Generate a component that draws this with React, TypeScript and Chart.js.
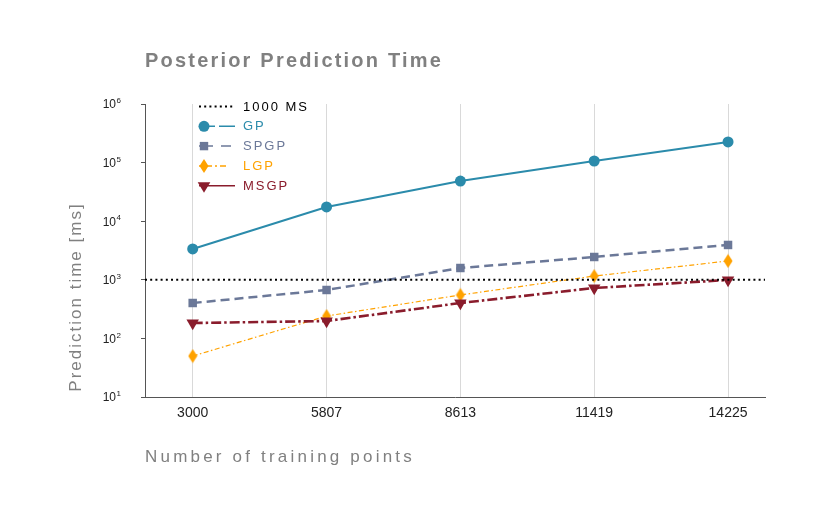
import React, { useEffect, useRef } from "react";
import { Chart, registerables } from "chart.js";

Chart.register(...registerables);

// ---- data ----
const X_VALUES = [3000, 5807, 8613, 11419, 14225];
const GP = [3360, 17500, 48500, 106500, 225000];
const SPGP = [402, 670, 1590, 2450, 3930];
const LGP = [50, 241, 551, 1160, 2095];
const MSGP = [183, 198, 402, 725, 993];
const REF_VALUE = 1000;
const REF_LABEL = "1000 MS";
const X_RANGE = [2000, 15000];
const Y_RANGE = [10, 1000000];
const Y_TICK_EXPONENTS = [1, 2, 3, 4, 5, 6];
const SERIES_NAMES = ["GP", "SPGP", "LGP", "MSGP"];
const TITLE = "Posterior Prediction Time";
const X_TITLE = "Number of training points";
const Y_TITLE = "Prediction time [ms]";

const COLORS = ["#2b8bab", "#6b7898", "#ffa200", "#8a1c2c"];
const FONT = "'Liberation Sans', Helvetica, Arial, sans-serif";

function makeDiamond(color: string) {
  const c = document.createElement("canvas");
  c.width = 10;
  c.height = 15;
  const ctx = c.getContext("2d")!;
  ctx.fillStyle = color;
  ctx.beginPath();
  ctx.moveTo(5, 0.5);
  ctx.lineTo(9.5, 7.5);
  ctx.lineTo(5, 14.5);
  ctx.lineTo(0.5, 7.5);
  ctx.closePath();
  ctx.fill();
  return c;
}

function drawMarker(ctx: CanvasRenderingContext2D, kind: number, x: number, y: number, color: string) {
  ctx.save();
  ctx.fillStyle = color;
  ctx.beginPath();
  if (kind === 0) {
    ctx.arc(x, y, 5.5, 0, Math.PI * 2);
  } else if (kind === 1) {
    ctx.rect(x - 4.2, y - 4.2, 8.4, 8.4);
  } else if (kind === 2) {
    ctx.moveTo(x, y - 7);
    ctx.lineTo(x + 4.5, y);
    ctx.lineTo(x, y + 7);
    ctx.lineTo(x - 4.5, y);
    ctx.closePath();
  } else {
    ctx.moveTo(x - 6.3, y - 3.5);
    ctx.lineTo(x + 6.3, y - 3.5);
    ctx.lineTo(x, y + 7);
    ctx.closePath();
  }
  ctx.fill();
  ctx.restore();
}

export default function App() {
  const ref = useRef<HTMLCanvasElement | null>(null);

  useEffect(() => {
    document.body.style.margin = "0";
    const canvas = ref.current;
    if (!canvas) return;

    const toPts = (arr: number[]) => arr.map((v, i) => ({ x: X_VALUES[i], y: v }));

    const overlay = {
      id: "overlay",
      afterDraw(chart: any) {
        const ctx: CanvasRenderingContext2D = chart.ctx;
        const ys = chart.scales.y;
        ctx.save();
        // y tick labels 10^k
        ctx.fillStyle = "#222";
        Y_TICK_EXPONENTS.forEach((e) => {
          const py = ys.getPixelForValue(Math.pow(10, e));
          ctx.font = `12px ${FONT}`;
          ctx.textAlign = "right";
          ctx.textBaseline = "middle";
          ctx.fillText("10", 116, py + 1);
          ctx.font = `8px ${FONT}`;
          ctx.textAlign = "left";
          ctx.fillText(String(e), 116.5, py - 3);
        });
        // title
        ctx.fillStyle = "#808080";
        ctx.textAlign = "left";
        ctx.textBaseline = "alphabetic";
        (ctx as any).letterSpacing = "2.2px";
        ctx.font = `bold 20px ${FONT}`;
        ctx.fillText(TITLE, 145, 67);
        // x title
        (ctx as any).letterSpacing = "3.2px";
        ctx.font = `17px ${FONT}`;
        ctx.fillText(X_TITLE, 145, 462);
        // y title
        ctx.save();
        ctx.translate(81, 297);
        ctx.rotate(-Math.PI / 2);
        ctx.textAlign = "center";
        (ctx as any).letterSpacing = "2px";
        ctx.font = `17px ${FONT}`;
        ctx.fillText(Y_TITLE, 0, 0);
        ctx.restore();

        // legend
        const lx0 = 199, lx1 = 235, mx = 204, tx = 243, ty0 = 106.5, step = 19.8;
        (ctx as any).letterSpacing = "2px";
        ctx.font = `13px ${FONT}`;
        ctx.textBaseline = "middle";
        ctx.textAlign = "left";
        // reference line entry
        ctx.save();
        ctx.strokeStyle = "#000";
        ctx.lineWidth = 2;
        ctx.setLineDash([2, 3.2]);
        ctx.beginPath();
        ctx.moveTo(lx0, ty0);
        ctx.lineTo(lx1, ty0);
        ctx.stroke();
        ctx.restore();
        ctx.fillStyle = "#000";
        ctx.fillText(REF_LABEL, tx, ty0 + 0.5);
        const dashes = [[16, 4, 16], [14, 8, 10], [13, 3, 2, 3, 6, 40], []];
        SERIES_NAMES.forEach((name, i) => {
          const y = ty0 + step * (i + 1);
          ctx.save();
          ctx.strokeStyle = COLORS[i];
          ctx.lineWidth = 1.5;
          ctx.setLineDash(dashes[i]);
          ctx.beginPath();
          ctx.moveTo(lx0, y);
          ctx.lineTo(lx1, y);
          ctx.stroke();
          ctx.restore();
          drawMarker(ctx, i, mx, y, COLORS[i]);
          ctx.fillStyle = COLORS[i];
          ctx.fillText(name, tx, y + 0.5);
        });
        ctx.restore();
      },
    };

    const chart = new Chart(canvas, {
      type: "line",
      data: {
        datasets: [
          {
            label: REF_LABEL,
            data: X_RANGE.map((x) => ({ x, y: REF_VALUE })),
            borderColor: "#000",
            borderWidth: 2,
            borderDash: [2, 3.2],
            pointRadius: 0,
            order: 0,
          },
          {
            label: SERIES_NAMES[3],
            data: toPts(MSGP),
            borderColor: COLORS[3],
            backgroundColor: COLORS[3],
            borderWidth: 2.6,
            borderDash: [10, 3, 2.5, 3],
            pointStyle: "triangle",
            rotation: 180,
            pointRadius: 7.2,
            pointBorderWidth: 0,
            order: 1,
          },
          {
            label: SERIES_NAMES[2],
            data: toPts(LGP),
            borderColor: COLORS[2],
            backgroundColor: COLORS[2],
            borderWidth: 1.2,
            borderDash: [5, 2.5, 1.5, 2.5],
            pointStyle: makeDiamond(COLORS[2]) as any,
            pointRadius: 7,
            order: 2,
          },
          {
            label: SERIES_NAMES[1],
            data: toPts(SPGP),
            borderColor: COLORS[1],
            backgroundColor: COLORS[1],
            borderWidth: 2.5,
            borderDash: [9, 5],
            pointStyle: "rect",
            pointRadius: 6,
            pointBorderWidth: 0,
            order: 3,
          },
          {
            label: SERIES_NAMES[0],
            data: toPts(GP),
            borderColor: COLORS[0],
            backgroundColor: COLORS[0],
            borderWidth: 2,
            pointStyle: "circle",
            pointRadius: 5.5,
            pointBorderWidth: 0,
            order: 4,
          },
        ],
      },
      options: {
        animation: false,
        responsive: false,
        devicePixelRatio: 1,
        layout: { padding: { left: 85, right: 65, top: 104, bottom: 0 } },
        plugins: {
          legend: { display: false },
          title: { display: false },
          tooltip: { enabled: false },
        },
        elements: { line: { tension: 0 } },
        scales: {
          x: {
            type: "linear",
            min: X_RANGE[0],
            max: X_RANGE[1],
            afterBuildTicks: (s: any) => {
              s.ticks = X_VALUES.map((v) => ({ value: v }));
            },
            afterFit: (s: any) => {
              s.height = 123;
            },
            ticks: {
              color: "#222",
              font: { family: FONT, size: 14 },
              padding: 8,
              maxRotation: 0,
              autoSkip: false,
              callback: (v: any) => String(v),
            },
            grid: { color: "#d9d9d9", lineWidth: 1, drawTicks: false },
            border: { display: true, color: "#555", width: 1 },
          },
          y: {
            type: "logarithmic",
            min: Y_RANGE[0],
            max: Y_RANGE[1],
            afterBuildTicks: (s: any) => {
              s.ticks = Y_TICK_EXPONENTS.map((e) => ({ value: Math.pow(10, e) }));
            },
            afterFit: (s: any) => {
              s.width = 60;
            },
            ticks: { display: false },
            grid: {
              drawOnChartArea: false,
              drawTicks: true,
              tickLength: 4,
              tickColor: "#555",
              color: "#555",
            },
            border: { display: true, color: "#555", width: 1 },
          },
        },
      },
      plugins: [overlay],
    });

    return () => chart.destroy();
  }, []);

  return (
    <div style={{ width: 830, height: 520, background: "#fff" }}>
      <canvas ref={ref} width={830} height={520} />
    </div>
  );
}
